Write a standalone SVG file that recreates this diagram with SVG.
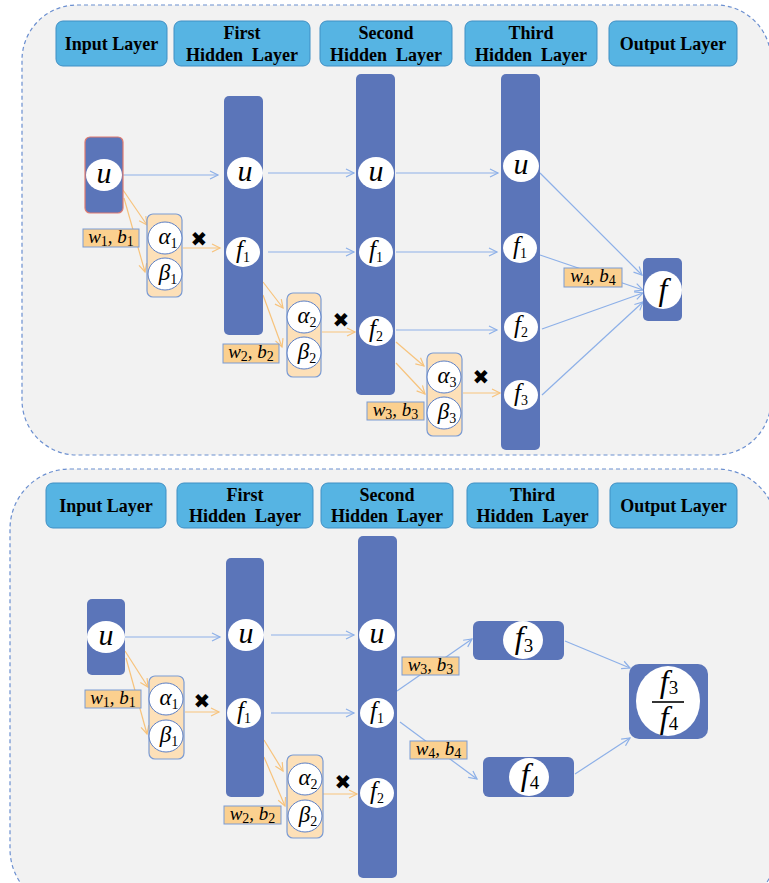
<svg xmlns="http://www.w3.org/2000/svg" width="769" height="883" viewBox="0 0 769 883">
<defs>
<style>
.panel{fill:#f2f2f2;stroke:#6b8fd0;stroke-width:1.2;stroke-dasharray:4 3}
.hdr{fill:#56b4e3;stroke:#3f8fc4;stroke-width:1}
.ht{font-family:"Liberation Serif","Times New Roman",serif;font-weight:bold;font-size:18px;fill:#000;text-anchor:middle}
.bar{fill:#5b75b9}
.wc{fill:#fff}
.ab{fill:#fde0b8;stroke:#7b9bd3;stroke-width:1.2}
.abc{fill:#fff;stroke:#5b7fc6;stroke-width:1}
.lbl{fill:#fbd08f;stroke:#7b9bd3;stroke-width:1}
.m{font-family:"Liberation Serif","DejaVu Serif",serif;font-style:italic;fill:#000;text-anchor:middle}
.s{font-style:normal;font-size:14px}
.s2{font-style:normal;font-size:19px}
.bl{stroke:#8db0e8;stroke-width:1.2;fill:none;marker-end:url(#ab)}
.or{stroke:#f7c37c;stroke-width:1.2;fill:none;marker-end:url(#ao)}
.x{font-family:"DejaVu Sans",sans-serif;font-size:20px;fill:#000;text-anchor:middle}
</style>
<marker id="ab" markerWidth="12" markerHeight="12" refX="9" refY="5" orient="auto" markerUnits="userSpaceOnUse"><path d="M1,1 L9,5 L1,9" fill="none" stroke="#8db0e8" stroke-width="1.2"/></marker>
<marker id="ao" markerWidth="12" markerHeight="12" refX="9" refY="5" orient="auto" markerUnits="userSpaceOnUse"><path d="M1,1 L9,5 L1,9" fill="none" stroke="#f7c37c" stroke-width="1.2"/></marker>
</defs>

<!-- Top panel -->
<rect id="panel-top" class="panel" x="22" y="5" width="749" height="450" rx="55"/>
<g id="top-headers">
<g id="t-h-input"><rect class="hdr" x="56" y="21" width="111" height="45" rx="7"/><text class="ht" x="111.5" y="50">Input Layer</text></g>
<g id="t-h-first"><rect class="hdr" x="174" y="21" width="136" height="45" rx="7"/><text class="ht" x="242" y="39">First</text><text class="ht" x="242" y="61" xml:space="preserve">Hidden  Layer</text></g>
<g id="t-h-second"><rect class="hdr" x="320" y="21" width="132" height="45" rx="7"/><text class="ht" x="386" y="39">Second</text><text class="ht" x="386" y="61" xml:space="preserve">Hidden  Layer</text></g>
<g id="t-h-third"><rect class="hdr" x="465" y="21" width="132" height="45" rx="7"/><text class="ht" x="531" y="39">Third</text><text class="ht" x="531" y="61" xml:space="preserve">Hidden  Layer</text></g>
<g id="t-h-output"><rect class="hdr" x="609" y="21" width="128" height="45" rx="7"/><text class="ht" x="673" y="50">Output Layer</text></g>
</g>

<g id="top-connectors">
<line class="bl" x1="123" y1="175" x2="218" y2="175"/>
<line class="bl" x1="268" y1="173" x2="354" y2="173"/>
<line class="bl" x1="268" y1="252" x2="354" y2="252"/>
<line class="bl" x1="396" y1="173" x2="498" y2="173"/>
<line class="bl" x1="396" y1="252" x2="497" y2="252"/>
<line class="bl" x1="396" y1="330" x2="497" y2="330"/>
<line class="bl" x1="540" y1="173" x2="642" y2="275"/>
<line class="bl" x1="540" y1="255" x2="643" y2="290"/>
<line class="bl" x1="542" y1="329" x2="643" y2="293"/>
<line class="bl" x1="542" y1="395" x2="643" y2="302"/>
<line class="or" x1="123" y1="190" x2="147" y2="225"/>
<line class="or" x1="124" y1="198" x2="145" y2="272"/>
<line class="or" x1="183" y1="248" x2="220" y2="248"/>
<line class="or" x1="263" y1="282" x2="283" y2="308"/>
<line class="or" x1="263" y1="295" x2="282" y2="347"/>
<line class="or" x1="322" y1="332" x2="355" y2="332"/>
<line class="or" x1="396" y1="342" x2="424" y2="366"/>
<line class="or" x1="396" y1="363" x2="425" y2="394"/>
<line class="or" x1="463" y1="393" x2="500" y2="393"/>
</g>

<g id="t-input"><rect class="bar" x="85" y="137" width="38" height="76" rx="5" stroke="#e07b70" stroke-width="1.2"/><ellipse class="wc" cx="104" cy="175" rx="18" ry="16"/><text class="m" x="104" y="183" font-size="30">u</text></g>
<g id="t-hidden1"><rect class="bar" x="224" y="96" width="39" height="239" rx="5"/>
<ellipse class="wc" cx="245" cy="173" rx="18" ry="16"/><text class="m" x="245" y="181" font-size="30">u</text>
<ellipse class="wc" cx="243" cy="252" rx="17" ry="15"/><text class="m" x="243" y="258" font-size="25">f<tspan class="s" dy="4">1</tspan></text></g>
<g id="t-hidden2"><rect class="bar" x="356" y="74" width="39" height="321" rx="5"/>
<ellipse class="wc" cx="376" cy="173" rx="18" ry="16"/><text class="m" x="376" y="181" font-size="30">u</text>
<ellipse class="wc" cx="376" cy="252" rx="17" ry="15"/><text class="m" x="376" y="258" font-size="25">f<tspan class="s" dy="4">1</tspan></text>
<ellipse class="wc" cx="376" cy="331" rx="17" ry="15"/><text class="m" x="376" y="337" font-size="25">f<tspan class="s" dy="4">2</tspan></text></g>
<g id="t-hidden3"><rect class="bar" x="501" y="74" width="39" height="376" rx="5"/>
<ellipse class="wc" cx="521" cy="166" rx="18" ry="16"/><text class="m" x="521" y="174" font-size="30">u</text>
<ellipse class="wc" cx="520" cy="248" rx="17" ry="15"/><text class="m" x="520" y="254" font-size="25">f<tspan class="s" dy="4">1</tspan></text>
<ellipse class="wc" cx="521" cy="327" rx="17" ry="15"/><text class="m" x="521" y="333" font-size="25">f<tspan class="s" dy="4">2</tspan></text>
<ellipse class="wc" cx="521" cy="395" rx="17" ry="15"/><text class="m" x="521" y="401" font-size="25">f<tspan class="s" dy="4">3</tspan></text></g>
<g id="t-output"><rect class="bar" x="643" y="258" width="39" height="63" rx="5"/><ellipse class="wc" cx="663" cy="290" rx="19" ry="19"/><text class="m" x="663" y="300" font-size="32">f</text></g>

<g id="t-ab1"><rect class="ab" x="147" y="214" width="35" height="83" rx="6"/>
<ellipse class="abc" cx="165" cy="238" rx="17" ry="16"/><text class="m" x="168" y="244" font-size="23">α<tspan class="s" dy="4">1</tspan></text>
<ellipse class="abc" cx="165" cy="274" rx="17" ry="16"/><text class="m" x="168" y="280" font-size="23">β<tspan class="s" dy="4">1</tspan></text></g>
<g id="t-ab2"><rect class="ab" x="287" y="293" width="34" height="84" rx="6"/>
<ellipse class="abc" cx="304" cy="317" rx="17" ry="16"/><text class="m" x="307" y="323" font-size="23">α<tspan class="s" dy="4">2</tspan></text>
<ellipse class="abc" cx="304" cy="353" rx="17" ry="16"/><text class="m" x="307" y="359" font-size="23">β<tspan class="s" dy="4">2</tspan></text></g>
<g id="t-ab3"><rect class="ab" x="427" y="353" width="35" height="83" rx="6"/>
<ellipse class="abc" cx="444" cy="377" rx="17" ry="16"/><text class="m" x="447" y="383" font-size="23">α<tspan class="s" dy="4">3</tspan></text>
<ellipse class="abc" cx="444" cy="413" rx="17" ry="16"/><text class="m" x="447" y="419" font-size="23">β<tspan class="s" dy="4">3</tspan></text></g>

<g id="t-w1"><rect class="lbl" x="83" y="229" width="56" height="18"/><text class="m" x="111" y="243" font-size="19">w<tspan class="s" dy="3">1</tspan><tspan dy="-3">, b</tspan><tspan class="s" dy="3">1</tspan></text></g>
<g id="t-w2"><rect class="lbl" x="223" y="344" width="56" height="19"/><text class="m" x="251" y="358" font-size="19">w<tspan class="s" dy="3">2</tspan><tspan dy="-3">, b</tspan><tspan class="s" dy="3">2</tspan></text></g>
<g id="t-w3"><rect class="lbl" x="367" y="402" width="57" height="18"/><text class="m" x="395.5" y="416" font-size="19">w<tspan class="s" dy="3">3</tspan><tspan dy="-3">, b</tspan><tspan class="s" dy="3">3</tspan></text></g>
<g id="t-w4"><rect class="lbl" x="564" y="268" width="58" height="19"/><text class="m" x="593" y="282" font-size="19">w<tspan class="s" dy="3">4</tspan><tspan dy="-3">, b</tspan><tspan class="s" dy="3">4</tspan></text></g>

<g id="t-x"><text class="x" x="199" y="246">✖</text><text class="x" x="341" y="327">✖</text><text class="x" x="481" y="384">✖</text></g>

<!-- Bottom panel -->
<rect id="panel-bottom" class="panel" x="10" y="469" width="767" height="440" rx="60"/>
<g id="bottom-headers">
<g id="b-h-input"><rect class="hdr" x="46" y="483" width="120" height="45" rx="7"/><text class="ht" x="106" y="512">Input Layer</text></g>
<g id="b-h-first"><rect class="hdr" x="177" y="483" width="136" height="45" rx="7"/><text class="ht" x="245" y="501">First</text><text class="ht" x="245" y="522" xml:space="preserve">Hidden  Layer</text></g>
<g id="b-h-second"><rect class="hdr" x="321" y="483" width="132" height="45" rx="7"/><text class="ht" x="387" y="501">Second</text><text class="ht" x="387" y="522" xml:space="preserve">Hidden  Layer</text></g>
<g id="b-h-third"><rect class="hdr" x="467" y="483" width="131" height="45" rx="7"/><text class="ht" x="532.5" y="501">Third</text><text class="ht" x="532.5" y="522" xml:space="preserve">Hidden  Layer</text></g>
<g id="b-h-output"><rect class="hdr" x="610" y="483" width="127" height="45" rx="7"/><text class="ht" x="673.5" y="512">Output Layer</text></g>
</g>

<g id="bottom-connectors">
<line class="bl" x1="125" y1="637" x2="220" y2="637"/>
<line class="bl" x1="271" y1="635" x2="354" y2="635"/>
<line class="bl" x1="271" y1="713" x2="354" y2="713"/>
<line class="bl" x1="397" y1="691" x2="472" y2="639"/>
<line class="bl" x1="400" y1="722" x2="477" y2="779"/>
<line class="bl" x1="565" y1="641" x2="630" y2="668"/>
<line class="bl" x1="575" y1="774" x2="630" y2="738"/>
<line class="or" x1="125" y1="651" x2="148" y2="687"/>
<line class="or" x1="126" y1="658" x2="147" y2="734"/>
<line class="or" x1="185" y1="712" x2="219" y2="712"/>
<line class="or" x1="264" y1="740" x2="283" y2="771"/>
<line class="or" x1="264" y1="757" x2="285" y2="806"/>
<line class="or" x1="323" y1="794" x2="357" y2="794"/>
</g>

<g id="b-input"><rect class="bar" x="87" y="599" width="38" height="76" rx="5"/><ellipse class="wc" cx="106" cy="637" rx="19" ry="16"/><text class="m" x="106" y="645" font-size="30">u</text></g>
<g id="b-hidden1"><rect class="bar" x="226" y="558" width="38" height="239" rx="5"/>
<ellipse class="wc" cx="246" cy="635" rx="18" ry="16"/><text class="m" x="246" y="643" font-size="30">u</text>
<ellipse class="wc" cx="244" cy="713" rx="17" ry="15"/><text class="m" x="244" y="719" font-size="25">f<tspan class="s" dy="4">1</tspan></text></g>
<g id="b-hidden2"><rect class="bar" x="358" y="536" width="39" height="342" rx="5"/>
<ellipse class="wc" cx="377" cy="635" rx="18" ry="16"/><text class="m" x="377" y="643" font-size="30">u</text>
<ellipse class="wc" cx="377" cy="713" rx="17" ry="15"/><text class="m" x="377" y="719" font-size="25">f<tspan class="s" dy="4">1</tspan></text>
<ellipse class="wc" cx="377" cy="793" rx="17" ry="15"/><text class="m" x="377" y="799" font-size="25">f<tspan class="s" dy="4">2</tspan></text></g>
<g id="b-f3"><rect class="bar" x="473" y="621" width="91" height="39" rx="6"/><ellipse class="wc" cx="523" cy="640" rx="20" ry="19"/><text class="m" x="524" y="648" font-size="32">f<tspan class="s2" dy="4">3</tspan></text></g>
<g id="b-f4"><rect class="bar" x="483" y="757" width="91" height="40" rx="6"/><ellipse class="wc" cx="529" cy="777" rx="20" ry="19"/><text class="m" x="530" y="785" font-size="32">f<tspan class="s2" dy="4">4</tspan></text></g>
<g id="b-output"><rect class="bar" x="629" y="664" width="79" height="75" rx="10"/><ellipse class="wc" cx="668" cy="701" rx="32" ry="35"/>
<text class="m" x="669" y="692" font-size="32">f<tspan class="s2" dy="2">3</tspan></text>
<line x1="652" y1="702" x2="684" y2="702" stroke="#000" stroke-width="1.6"/>
<text class="m" x="669" y="728" font-size="32">f<tspan class="s2" dy="2">4</tspan></text></g>

<g id="b-ab1"><rect class="ab" x="149" y="676" width="35" height="83" rx="6"/>
<ellipse class="abc" cx="166" cy="699" rx="17" ry="16"/><text class="m" x="169" y="705" font-size="23">α<tspan class="s" dy="4">1</tspan></text>
<ellipse class="abc" cx="166" cy="736" rx="17" ry="16"/><text class="m" x="169" y="742" font-size="23">β<tspan class="s" dy="4">1</tspan></text></g>
<g id="b-ab2"><rect class="ab" x="287" y="755" width="36" height="83" rx="6"/>
<ellipse class="abc" cx="305" cy="779" rx="17" ry="16"/><text class="m" x="308" y="785" font-size="23">α<tspan class="s" dy="4">2</tspan></text>
<ellipse class="abc" cx="305" cy="816" rx="17" ry="16"/><text class="m" x="308" y="822" font-size="23">β<tspan class="s" dy="4">2</tspan></text></g>

<g id="b-w1"><rect class="lbl" x="85" y="690" width="56" height="18"/><text class="m" x="113" y="704" font-size="19">w<tspan class="s" dy="3">1</tspan><tspan dy="-3">, b</tspan><tspan class="s" dy="3">1</tspan></text></g>
<g id="b-w2"><rect class="lbl" x="224" y="806" width="57" height="18"/><text class="m" x="252.5" y="820" font-size="19">w<tspan class="s" dy="3">2</tspan><tspan dy="-3">, b</tspan><tspan class="s" dy="3">2</tspan></text></g>
<g id="b-w3"><rect class="lbl" x="402" y="657" width="57" height="18"/><text class="m" x="430.5" y="671" font-size="19">w<tspan class="s" dy="3">3</tspan><tspan dy="-3">, b</tspan><tspan class="s" dy="3">3</tspan></text></g>
<g id="b-w4"><rect class="lbl" x="410" y="741" width="57" height="18"/><text class="m" x="438.5" y="755" font-size="19">w<tspan class="s" dy="3">4</tspan><tspan dy="-3">, b</tspan><tspan class="s" dy="3">4</tspan></text></g>

<g id="b-x"><text class="x" x="202" y="708">✖</text><text class="x" x="343" y="789">✖</text></g>
</svg>
